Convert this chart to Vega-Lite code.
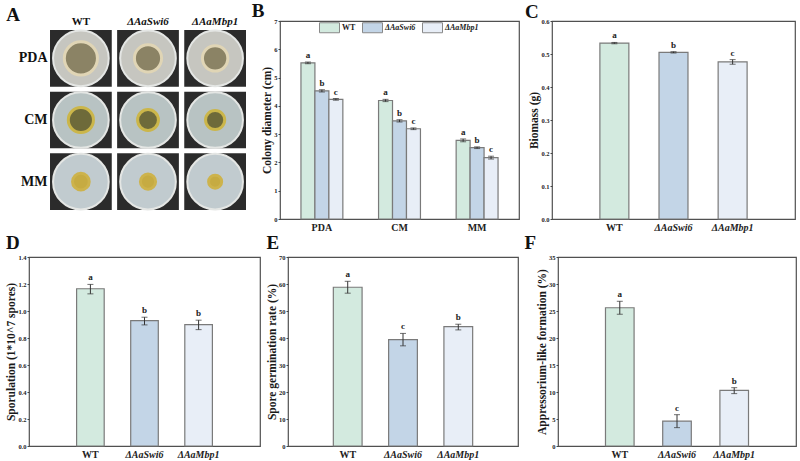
{
  "$schema": "https://vega.github.io/schema/vega-lite/v6.json",
  "background": "white",
  "padding": {"left": 5, "top": 1, "right": 2, "bottom": 1},
  "datasets": {
    "colony": [
      {"cond": "PDA", "strain": "WT", "mean": 5.52, "lo": 5.49, "hi": 5.55, "sig": "a"},
      {"cond": "PDA", "strain": "ΔAaSwi6", "mean": 4.53, "lo": 4.49, "hi": 4.57, "sig": "b"},
      {"cond": "PDA", "strain": "ΔAaMbp1", "mean": 4.23, "lo": 4.2, "hi": 4.26, "sig": "c"},
      {"cond": "CM", "strain": "WT", "mean": 4.19, "lo": 4.15, "hi": 4.23, "sig": "a"},
      {"cond": "CM", "strain": "ΔAaSwi6", "mean": 3.47, "lo": 3.43, "hi": 3.51, "sig": "b"},
      {"cond": "CM", "strain": "ΔAaMbp1", "mean": 3.19, "lo": 3.16, "hi": 3.22, "sig": "c"},
      {"cond": "MM", "strain": "WT", "mean": 2.78, "lo": 2.73, "hi": 2.83, "sig": "a"},
      {"cond": "MM", "strain": "ΔAaSwi6", "mean": 2.52, "lo": 2.49, "hi": 2.55, "sig": "b"},
      {"cond": "MM", "strain": "ΔAaMbp1", "mean": 2.17, "lo": 2.12, "hi": 2.22, "sig": "c"}
    ],
    "biomass": [
      {"strain": "WT", "mean": 0.533, "lo": 0.531, "hi": 0.535, "sig": "a"},
      {"strain": "ΔAaSwi6", "mean": 0.505, "lo": 0.503, "hi": 0.507, "sig": "b"},
      {"strain": "ΔAaMbp1", "mean": 0.476, "lo": 0.469, "hi": 0.483, "sig": "c"}
    ],
    "spor": [
      {"strain": "WT", "mean": 1.165, "lo": 1.127, "hi": 1.197, "sig": "a"},
      {"strain": "ΔAaSwi6", "mean": 0.929, "lo": 0.897, "hi": 0.954, "sig": "b"},
      {"strain": "ΔAaMbp1", "mean": 0.899, "lo": 0.862, "hi": 0.932, "sig": "b"}
    ],
    "germ": [
      {"strain": "WT", "mean": 58.8, "lo": 56.6, "hi": 61.0, "sig": "a"},
      {"strain": "ΔAaSwi6", "mean": 39.4, "lo": 37.1, "hi": 41.7, "sig": "c"},
      {"strain": "ΔAaMbp1", "mean": 44.2, "lo": 43.0, "hi": 45.1, "sig": "b"}
    ],
    "appr": [
      {"strain": "WT", "mean": 25.6, "lo": 24.4, "hi": 26.8, "sig": "a"},
      {"strain": "ΔAaSwi6", "mean": 4.6, "lo": 3.4, "hi": 5.8, "sig": "c"},
      {"strain": "ΔAaMbp1", "mean": 10.3, "lo": 9.7, "hi": 10.8, "sig": "b"}
    ]
  },
  "vconcat": [
    {
      "hconcat": [
        {
          "title": {"text": "A", "offset": -10, "dx": -12},
          "width": 217,
          "height": 198,
          "view": {"stroke": null},
          "data": {"name": "colony"},
          "encoding": {
            "x": {"field": "strain", "type": "nominal", "sort": ["WT", "ΔAaSwi6", "ΔAaMbp1"], "scale": {"paddingInner": 0.08, "paddingOuter": 0.1565, "align": 1}, "axis": {"orient": "top", "title": null, "labelFontSize": 11, "labelPadding": -5, "labelColor": "#111", "labelFontStyle": {"condition": {"test": "datum.value == 'WT'", "value": "normal"}, "value": "italic"}}},
            "y": {"field": "cond", "type": "nominal", "sort": ["PDA", "CM", "MM"], "scale": {"paddingInner": 0.08, "paddingOuter": 0.146}, "axis": {"title": null, "labelFontSize": 14, "ticks": false, "labelPadding": -18, "labelColor": "#111"}}
          },
          "layer": [
            {"mark": {"type": "rect", "color": "#2b2b2b"}},
            {"mark": {"type": "point", "shape": "circle", "filled": true, "size": 3100, "stroke": "#e4e6e4", "strokeWidth": 2, "opacity": 1},
             "encoding": {"fill": {"field": "cond", "type": "nominal", "scale": {"domain": ["PDA", "CM", "MM"], "range": ["#c6c6c0", "#b8c3c3", "#c1cbcf"]}, "legend": null}}},
            {"mark": {"type": "point", "shape": "circle", "filled": true, "strokeWidth": 3, "opacity": 1},
             "encoding": {
               "size": {"field": "mean", "type": "quantitative", "scale": {"type": "pow", "exponent": 2, "domain": [0, 10], "range": [0, 3600]}, "legend": null},
               "color": {"field": "cond", "type": "nominal", "scale": {"domain": ["PDA", "CM", "MM"], "range": ["#8b8365", "#6e6a3a", "#c6ab42"]}, "legend": null},
               "stroke": {"field": "cond", "type": "nominal", "scale": {"domain": ["PDA", "CM", "MM"], "range": ["#e0d5b5", "#cbb64a", "#cdb34c"]}, "legend": null}
             }}
          ]
        },
        {
          "title": {"text": "B", "dx": -10, "offset": -4},
          "width": 239,
          "height": 198,
          "data": {"name": "colony"},
          "encoding": {
            "x": {"field": "cond", "type": "nominal", "sort": ["PDA", "CM", "MM"], "scale": {"paddingInner": 0.46, "paddingOuter": 0.27}, "axis": {"title": null}},
            "xOffset": {"field": "strain", "type": "nominal", "sort": ["WT", "ΔAaSwi6", "ΔAaMbp1"], "scale": {"paddingInner": 0, "paddingOuter": 0}}
          },
          "layer": [
            {"mark": {"type": "bar", "stroke": "#7a7a7a", "strokeWidth": 1.2},
             "encoding": {
               "y": {"field": "mean", "type": "quantitative", "title": "Colony diameter  (cm)", "scale": {"domain": [0, 7], "nice": false}, "axis": {"values": [0, 1, 2, 3, 4, 5, 6, 7], "format": "d"}},
               "color": {"field": "strain", "type": "nominal", "sort": ["WT", "ΔAaSwi6", "ΔAaMbp1"], "scale": {"domain": ["WT", "ΔAaSwi6", "ΔAaMbp1"], "range": ["#d3eadf", "#c3d5e7", "#e8eef7"]},
                 "legend": {"orient": "none", "legendX": 39, "legendY": -4, "direction": "horizontal", "title": null, "symbolType": "M-1,-0.5H1V0.5H-1Z", "symbolSize": 400, "symbolStrokeColor": "#888", "symbolStrokeWidth": 1, "symbolOpacity": 1, "labelFontSize": 8, "labelFontWeight": "bold", "labelFont": "Liberation Serif", "labelColor": "#222", "columnPadding": 4, "labelOffset": 2, "padding": 0,
                   "encode": {"labels": {"update": {"fontStyle": {"signal": "datum.label == 'WT' ? 'normal' : 'italic'"}}}}}}
             }},
            {"mark": {"type": "rule", "color": "#333", "strokeWidth": 1},
             "encoding": {"y": {"field": "lo", "type": "quantitative", "title": "Colony diameter  (cm)", "axis": {"values": [0, 1, 2, 3, 4, 5, 6, 7], "format": "d"}}, "y2": {"field": "hi"}}},
            {"mark": {"type": "tick", "color": "#333", "size": 6, "thickness": 1},
             "encoding": {"y": {"field": "lo", "type": "quantitative", "title": "Colony diameter  (cm)", "axis": {"values": [0, 1, 2, 3, 4, 5, 6, 7], "format": "d"}}}},
            {"mark": {"type": "tick", "color": "#333", "size": 6, "thickness": 1},
             "encoding": {"y": {"field": "hi", "type": "quantitative", "title": "Colony diameter  (cm)", "axis": {"values": [0, 1, 2, 3, 4, 5, 6, 7], "format": "d"}}}},
            {"mark": {"type": "text", "baseline": "bottom", "dy": -2, "fontSize": 9, "fontWeight": "bold", "font": "Liberation Serif", "color": "#222"},
             "encoding": {"y": {"field": "hi", "type": "quantitative", "title": "Colony diameter  (cm)", "axis": {"values": [0, 1, 2, 3, 4, 5, 6, 7], "format": "d"}}, "text": {"field": "sig", "type": "nominal"}}}
          ]
        },
        {
          "title": {"text": "C", "dx": -4, "offset": -4},
          "width": 243,
          "height": 198,
          "data": {"name": "biomass"},
          "encoding": {
            "x": {"field": "strain", "type": "nominal", "sort": ["WT", "ΔAaSwi6", "ΔAaMbp1"], "scale": {"paddingInner": 0.51, "paddingOuter": 0.81}, "axis": {"title": null, "labelFontStyle": {"condition": {"test": "datum.value == 'WT'", "value": "normal"}, "value": "italic"}}}
          },
          "layer": [
            {"mark": {"type": "bar", "stroke": "#7a7a7a", "strokeWidth": 1.2},
             "encoding": {
               "y": {"field": "mean", "type": "quantitative", "title": "Biomass (g)", "scale": {"domain": [0, 0.6], "nice": false}, "axis": {"values": [0, 0.1, 0.2, 0.3, 0.4, 0.5, 0.6], "format": ".1f"}},
               "color": {"field": "strain", "type": "nominal", "scale": {"domain": ["WT", "ΔAaSwi6", "ΔAaMbp1"], "range": ["#d3eadf", "#c3d5e7", "#e8eef7"]}, "legend": null}
             }},
            {"mark": {"type": "rule", "color": "#333", "strokeWidth": 1},
             "encoding": {"y": {"field": "lo", "type": "quantitative", "title": "Biomass (g)", "axis": {"values": [0, 0.1, 0.2, 0.3, 0.4, 0.5, 0.6], "format": ".1f"}}, "y2": {"field": "hi"}}},
            {"mark": {"type": "tick", "color": "#333", "size": 6, "thickness": 1},
             "encoding": {"y": {"field": "lo", "type": "quantitative", "title": "Biomass (g)", "axis": {"values": [0, 0.1, 0.2, 0.3, 0.4, 0.5, 0.6], "format": ".1f"}}}},
            {"mark": {"type": "tick", "color": "#333", "size": 6, "thickness": 1},
             "encoding": {"y": {"field": "hi", "type": "quantitative", "title": "Biomass (g)", "axis": {"values": [0, 0.1, 0.2, 0.3, 0.4, 0.5, 0.6], "format": ".1f"}}}},
            {"mark": {"type": "text", "baseline": "bottom", "dy": -2, "fontSize": 9, "fontWeight": "bold", "font": "Liberation Serif", "color": "#222"},
             "encoding": {"y": {"field": "hi", "type": "quantitative", "title": "Biomass (g)", "axis": {"values": [0, 0.1, 0.2, 0.3, 0.4, 0.5, 0.6], "format": ".1f"}}, "text": {"field": "sig", "type": "nominal"}}}
          ]
        }
      ],
      "spacing": 4,
      "resolve": {"scale": {"color": "independent", "fill": "independent", "stroke": "independent", "size": "independent"}, "legend": {"color": "independent"}}
    },
    {
      "hconcat": [
        {
          "title": {"text": "D", "offset": 1},
          "width": 231,
          "height": 189,
          "data": {"name": "spor"},
          "encoding": {
            "x": {"field": "strain", "type": "nominal", "sort": ["WT", "ΔAaSwi6", "ΔAaMbp1"], "scale": {"paddingInner": 0.49, "paddingOuter": 0.88}, "axis": {"title": null, "labelFontStyle": {"condition": {"test": "datum.value == 'WT'", "value": "normal"}, "value": "italic"}}}
          },
          "layer": [
            {"mark": {"type": "bar", "stroke": "#7a7a7a", "strokeWidth": 1.2},
             "encoding": {
               "y": {"field": "mean", "type": "quantitative", "title": "Sporulation  (1*10^7 spores)", "scale": {"domain": [0, 1.4], "nice": false}, "axis": {"values": [0, 0.2, 0.4, 0.6, 0.8, 1.0, 1.2, 1.4], "format": ".1f"}},
               "color": {"field": "strain", "type": "nominal", "scale": {"domain": ["WT", "ΔAaSwi6", "ΔAaMbp1"], "range": ["#d3eadf", "#c3d5e7", "#e8eef7"]}, "legend": null}
             }},
            {"mark": {"type": "rule", "color": "#333", "strokeWidth": 1},
             "encoding": {"y": {"field": "lo", "type": "quantitative", "title": "Sporulation  (1*10^7 spores)", "axis": {"values": [0, 0.2, 0.4, 0.6, 0.8, 1.0, 1.2, 1.4], "format": ".1f"}}, "y2": {"field": "hi"}}},
            {"mark": {"type": "tick", "color": "#333", "size": 6, "thickness": 1},
             "encoding": {"y": {"field": "lo", "type": "quantitative", "title": "Sporulation  (1*10^7 spores)", "axis": {"values": [0, 0.2, 0.4, 0.6, 0.8, 1.0, 1.2, 1.4], "format": ".1f"}}}},
            {"mark": {"type": "tick", "color": "#333", "size": 6, "thickness": 1},
             "encoding": {"y": {"field": "hi", "type": "quantitative", "title": "Sporulation  (1*10^7 spores)", "axis": {"values": [0, 0.2, 0.4, 0.6, 0.8, 1.0, 1.2, 1.4], "format": ".1f"}}}},
            {"mark": {"type": "text", "baseline": "bottom", "dy": -2, "fontSize": 9, "fontWeight": "bold", "font": "Liberation Serif", "color": "#222"},
             "encoding": {"y": {"field": "hi", "type": "quantitative", "title": "Sporulation  (1*10^7 spores)", "axis": {"values": [0, 0.2, 0.4, 0.6, 0.8, 1.0, 1.2, 1.4], "format": ".1f"}}, "text": {"field": "sig", "type": "nominal"}}}
          ]
        },
        {
          "title": {"text": "E", "offset": 1},
          "width": 230,
          "height": 189,
          "data": {"name": "germ"},
          "encoding": {
            "x": {"field": "strain", "type": "nominal", "sort": ["WT", "ΔAaSwi6", "ΔAaMbp1"], "scale": {"paddingInner": 0.48, "paddingOuter": 0.82}, "axis": {"title": null, "labelFontStyle": {"condition": {"test": "datum.value == 'WT'", "value": "normal"}, "value": "italic"}}}
          },
          "layer": [
            {"mark": {"type": "bar", "stroke": "#7a7a7a", "strokeWidth": 1.2},
             "encoding": {
               "y": {"field": "mean", "type": "quantitative", "title": "Spore germination rate (%)", "scale": {"domain": [0, 70], "nice": false}, "axis": {"values": [0, 10, 20, 30, 40, 50, 60, 70], "format": "d"}},
               "color": {"field": "strain", "type": "nominal", "scale": {"domain": ["WT", "ΔAaSwi6", "ΔAaMbp1"], "range": ["#d3eadf", "#c3d5e7", "#e8eef7"]}, "legend": null}
             }},
            {"mark": {"type": "rule", "color": "#333", "strokeWidth": 1},
             "encoding": {"y": {"field": "lo", "type": "quantitative", "title": "Spore germination rate (%)", "axis": {"values": [0, 10, 20, 30, 40, 50, 60, 70], "format": "d"}}, "y2": {"field": "hi"}}},
            {"mark": {"type": "tick", "color": "#333", "size": 6, "thickness": 1},
             "encoding": {"y": {"field": "lo", "type": "quantitative", "title": "Spore germination rate (%)", "axis": {"values": [0, 10, 20, 30, 40, 50, 60, 70], "format": "d"}}}},
            {"mark": {"type": "tick", "color": "#333", "size": 6, "thickness": 1},
             "encoding": {"y": {"field": "hi", "type": "quantitative", "title": "Spore germination rate (%)", "axis": {"values": [0, 10, 20, 30, 40, 50, 60, 70], "format": "d"}}}},
            {"mark": {"type": "text", "baseline": "bottom", "dy": -2, "fontSize": 9, "fontWeight": "bold", "font": "Liberation Serif", "color": "#222"},
             "encoding": {"y": {"field": "hi", "type": "quantitative", "title": "Spore germination rate (%)", "axis": {"values": [0, 10, 20, 30, 40, 50, 60, 70], "format": "d"}}, "text": {"field": "sig", "type": "nominal"}}}
          ]
        },
        {
          "title": {"text": "F", "dx": -12, "offset": 1},
          "width": 238,
          "height": 189,
          "data": {"name": "appr"},
          "encoding": {
            "x": {"field": "strain", "type": "nominal", "sort": ["WT", "ΔAaSwi6", "ΔAaMbp1"], "scale": {"paddingInner": 0.5, "paddingOuter": 0.83}, "axis": {"title": null, "labelFontStyle": {"condition": {"test": "datum.value == 'WT'", "value": "normal"}, "value": "italic"}}}
          },
          "layer": [
            {"mark": {"type": "bar", "stroke": "#7a7a7a", "strokeWidth": 1.2},
             "encoding": {
               "y": {"field": "mean", "type": "quantitative", "title": "Appressorium-like formation (%)", "scale": {"domain": [0, 35], "nice": false}, "axis": {"values": [0, 5, 10, 15, 20, 25, 30, 35], "format": "d"}},
               "color": {"field": "strain", "type": "nominal", "scale": {"domain": ["WT", "ΔAaSwi6", "ΔAaMbp1"], "range": ["#d3eadf", "#c3d5e7", "#e8eef7"]}, "legend": null}
             }},
            {"mark": {"type": "rule", "color": "#333", "strokeWidth": 1},
             "encoding": {"y": {"field": "lo", "type": "quantitative", "title": "Appressorium-like formation (%)", "axis": {"values": [0, 5, 10, 15, 20, 25, 30, 35], "format": "d"}}, "y2": {"field": "hi"}}},
            {"mark": {"type": "tick", "color": "#333", "size": 6, "thickness": 1},
             "encoding": {"y": {"field": "lo", "type": "quantitative", "title": "Appressorium-like formation (%)", "axis": {"values": [0, 5, 10, 15, 20, 25, 30, 35], "format": "d"}}}},
            {"mark": {"type": "tick", "color": "#333", "size": 6, "thickness": 1},
             "encoding": {"y": {"field": "hi", "type": "quantitative", "title": "Appressorium-like formation (%)", "axis": {"values": [0, 5, 10, 15, 20, 25, 30, 35], "format": "d"}}}},
            {"mark": {"type": "text", "baseline": "bottom", "dy": -2, "fontSize": 9, "fontWeight": "bold", "font": "Liberation Serif", "color": "#222"},
             "encoding": {"y": {"field": "hi", "type": "quantitative", "title": "Appressorium-like formation (%)", "axis": {"values": [0, 5, 10, 15, 20, 25, 30, 35], "format": "d"}}, "text": {"field": "sig", "type": "nominal"}}}
          ]
        }
      ],
      "spacing": 4,
      "resolve": {"scale": {"color": "independent"}, "legend": {"color": "independent"}}
    }
  ],
  "spacing": 0,
  "resolve": {"scale": {"color": "independent", "fill": "independent", "stroke": "independent", "size": "independent"}, "legend": {"color": "independent"}},
  "config": {
    "font": "Liberation Serif",
    "view": {"stroke": "#505050", "strokeWidth": 1.2},
    "axis": {"grid": false, "domain": false, "labelFont": "Liberation Serif", "titleFont": "Liberation Serif", "labelFontWeight": "bold", "titleFontWeight": "bold", "labelColor": "#222", "titleColor": "#1a1a1a"},
    "axisY": {"labelFontSize": 6.5, "tickSize": 2, "tickColor": "#444", "labelPadding": 1, "titlePadding": 1, "titleFontSize": 11.5, "labelOverlap": false, "labelFlush": false},
    "axisX": {"labelFontSize": 10, "ticks": false, "labelPadding": 3, "labelAngle": 0},
    "title": {"fontSize": 19, "fontWeight": "bold", "anchor": "start", "frame": "bounds", "color": "#111", "font": "Liberation Serif"}
  }
}
